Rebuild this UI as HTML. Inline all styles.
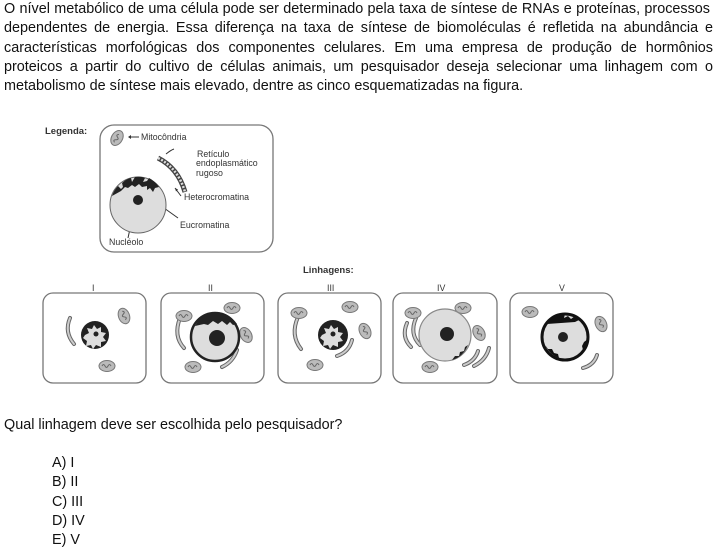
<!DOCTYPE html>
<html><head><meta charset="utf-8"><style>
body{margin:0;width:720px;height:552px;background:#fff;position:relative;overflow:hidden;font-family:"Liberation Sans",Arial,sans-serif;color:#111}
.l{position:absolute;left:4px;width:709px;font-size:14.4px;line-height:17px;white-space:nowrap}
.j{text-align:justify;text-align-last:justify;white-space:normal}
.o{position:absolute;left:52px;font-size:14.4px;line-height:17px}
svg{position:absolute;left:0;top:0}
</style></head><body>
<div class="l j" style="top:1px;width:706px">O nível metabólico de uma célula pode ser determinado pela taxa de síntese de RNAs e proteínas, processos</div>
<div class="l j" style="top:20px">dependentes de energia. Essa diferença na taxa de síntese de biomoléculas é refletida na abundância e</div>
<div class="l j" style="top:40px">características morfológicas dos componentes celulares. Em uma empresa de produção de hormônios</div>
<div class="l j" style="top:59px">proteicos a partir do cultivo de células animais, um pesquisador deseja selecionar uma linhagem com o</div>
<div class="l" style="top:78px">metabolismo de síntese mais elevado, dentre as cinco esquematizadas na figura.</div>
<div class="l" style="top:417px">Qual linhagem deve ser escolhida pelo pesquisador?</div>
<div class="o" style="top:455px">A) I</div>
<div class="o" style="top:474px">B) II</div>
<div class="o" style="top:494px">C) III</div>
<div class="o" style="top:513px">D) IV</div>
<div class="o" style="top:532px">E) V</div>
<svg width="720" height="552" font-family="Liberation Sans,Arial,sans-serif">
<defs>
<g id="m"><ellipse rx="8" ry="5.5" fill="#bbb" stroke="#777" stroke-width="1"/><path d="M-5 0q1.5-3 3 0t3 0t3 0" fill="none" stroke="#666" stroke-width="1"/></g>
</defs>
<g fill="none" stroke="#777" stroke-width="1.3">
<rect x="100" y="125" width="173" height="127" rx="14"/>
<rect x="43" y="293" width="103" height="90" rx="10"/>
<rect x="161" y="293" width="103" height="90" rx="10"/>
<rect x="278" y="293" width="103" height="90" rx="10"/>
<rect x="393" y="293" width="104" height="90" rx="10"/>
<rect x="510" y="293" width="103" height="90" rx="10"/>
</g>
<g font-size="8.8" fill="#333">
<text x="45" y="134" font-weight="bold" font-size="9.5">Legenda:</text>
<text x="141" y="140">Mitocôndria</text>
<text x="197" y="157">Retículo</text>
<text x="196" y="166">endoplasmático</text>
<text x="196" y="176">rugoso</text>
<text x="184" y="200">Heterocromatina</text>
<text x="180" y="228">Eucromatina</text>
<text x="109" y="245">Nucléolo</text>
<text x="303" y="273" font-weight="bold" font-size="9.5">Linhagens:</text>
<text x="92" y="291">I</text><text x="208" y="291">II</text><text x="327" y="291">III</text><text x="437" y="291">IV</text><text x="559" y="291">V</text>
</g>
<!-- legend -->
<g transform="translate(117,138) rotate(-60)"><use href="#m"/></g>
<path d="M130 137h9M166 154q5-4 8-5M175 188l6 8M164 208l14 10M134 210l-6 28" stroke="#333" stroke-width="1" fill="none"/>
<path d="M128 137l3-2v4zM175 188l1 3.5 2-2z" fill="#333"/>
<path d="M158 158q20 10 27 34" stroke="#444" stroke-width="5" fill="none"/>
<path d="M158 158q20 10 27 34" stroke="#ddd" stroke-width="2.5" fill="none" stroke-dasharray="2 1.5"/>
<circle cx="138" cy="205" r="28" fill="#ddd" stroke="#666"/>
<path d="M112 196q2-6 6-10l3 3 2-2-1-4q4-4 9-5l1 4 3-5q6-1 10 1l-2 4 4-1 2-3q6 3 10 9l-4 1-2 4-3-4-3 2 0-4-5 1-3-3-4 3-3-2-4 3-3-1-4 4z" fill="#222"/>
<circle cx="138" cy="200" r="5" fill="#222"/>
<g stroke="#666" stroke-width="4" fill="none" stroke-linecap="round">
<path d="M70 318q-6 14 4 26"/>
<path d="M180 318q-7 18 4 30M237 350q-4 12-15 17"/>
<path d="M298 317q-8 18 3 32M352 340q-3 12-15 16"/>
<path d="M407 323q-6 14 4 24M416 318q-7 16 4 27M478 351q-3 10-14 14M489 348q-3 12-15 18"/>
<path d="M597 355q-3 10-14 13"/>
</g>
<g stroke="#ccc" stroke-width="2" fill="none" stroke-linecap="round">
<path d="M70 318q-6 14 4 26"/>
<path d="M180 318q-7 18 4 30M237 350q-4 12-15 17"/>
<path d="M298 317q-8 18 3 32M352 340q-3 12-15 16"/>
<path d="M407 323q-6 14 4 24M416 318q-7 16 4 27M478 351q-3 10-14 14M489 348q-3 12-15 18"/>
<path d="M597 355q-3 10-14 13"/>
</g>
<g transform="translate(124,316) rotate(70)"><use href="#m"/></g>
<use href="#m" x="107" y="366"/>
<use href="#m" x="184" y="316"/><use href="#m" x="232" y="308"/><g transform="translate(246,335) rotate(60)"><use href="#m"/></g><use href="#m" x="193" y="367"/>
<use href="#m" x="299" y="313"/><use href="#m" x="350" y="307"/><g transform="translate(365,331) rotate(65)"><use href="#m"/></g><use href="#m" x="315" y="365"/>
<use href="#m" x="413" y="313"/><use href="#m" x="463" y="308"/><g transform="translate(479,333) rotate(60)"><use href="#m"/></g><use href="#m" x="430" y="367"/>
<use href="#m" x="530" y="312"/><g transform="translate(601,324) rotate(65)"><use href="#m"/></g>
<circle cx="95" cy="335" r="14" fill="#222"/>
<path d="M85 335l4-2-2-5 5 1 2-4 3 4 4-2 0 5 5 1-3 4 3 4-5 1 0 5-5-2-3 4-2-4-5 1 1-5-4-3z" fill="#ddd"/>
<circle cx="96" cy="334" r="2.5" fill="#222"/>
<circle cx="333" cy="335" r="15" fill="#222"/>
<path d="M322 335l4-2-2-5 5 1 2-4 3 4 4-2 0 5 5 1-3 4 3 4-5 1 0 5-5-2-3 4-2-4-5 1 1-5-4-3z" fill="#ddd"/>
<circle cx="333" cy="334" r="2.5" fill="#222"/>
<circle cx="215" cy="337" r="24" fill="#ddd" stroke="#222" stroke-width="2.5"/>
<path d="M195 326q8-14 22-14q12 1 20 12l-4 1-3-3-3 3-5-4-4 3-5-3-5 4-4-1z" fill="#222"/>
<circle cx="217" cy="338" r="8" fill="#222"/>
<circle cx="445" cy="335" r="26" fill="#ddd" stroke="#888" stroke-width="1.2"/>
<path d="M468 345q-5 12-16 15l3-4 4 0 1-4 4-1 1-4z" fill="#222"/>
<circle cx="447" cy="334" r="7" fill="#222"/>
<circle cx="565" cy="337" r="23" fill="#ddd" stroke="#111" stroke-width="3"/>
<path d="M547 324q6-9 18-10l-1 4 4-2 3 3 4-3 4 4-4 2zM545 345q5 10 14 13l-1-4-4-1-2-4-4 0zM583 350q4-5 5-11l-4 3-2 4z" fill="#111"/>
<circle cx="563" cy="337" r="5" fill="#222"/>
</svg>
</body></html>
